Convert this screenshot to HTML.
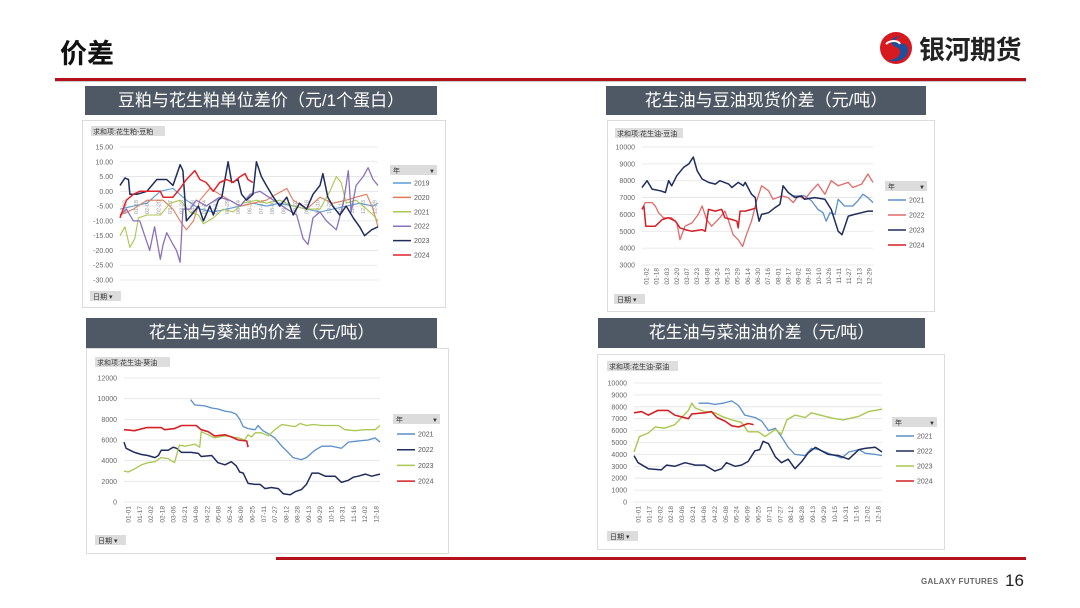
<!DOCTYPE html>
<html><head><meta charset="utf-8">
<style>
body{margin:0;width:1080px;height:608px;background:#fff;overflow:hidden;position:relative;font-family:"Liberation Sans","Noto Sans CJK SC",sans-serif}
.abs{position:absolute}
.tbar{position:absolute;background:#4f5966;color:#fff;font-size:17px;line-height:29px;text-align:center;font-family:"Liberation Sans","Noto Sans CJK SC",sans-serif}
.panel{position:absolute;background:#fff;border:1px solid #dcdcdc}
</style></head><body>
<div class="abs" style="left:60px;top:32px;font-size:27px;font-weight:bold;color:#111">价差</div>
<svg class="abs" style="left:876px;top:30px" width="40" height="36" viewBox="0 0 40 36">
<circle cx="20" cy="18" r="16" fill="#d71920"/><path d="M26 6 C14 6 12 14 20 17 C28 20 24 30 12 30 C22 34 34 28 32 18 C30 12 22 14 20 12 C18 10 22 6 26 6Z" fill="#1d4f9c"/><path d="M10 14 C14 10 22 10 24 14" stroke="#fff" stroke-width="2" fill="none"/></svg>
<div class="abs" style="left:919px;top:30px;font-size:26px;font-weight:bold;color:#222;letter-spacing:-0.5px">银河期货</div>
<div class="abs" style="left:55px;top:78px;width:971px;height:3px;background:#b3121a"></div>
<div class="abs" style="left:55px;top:81px;width:971px;height:1px;background:#ccc"></div>

<div class="tbar" style="left:85px;top:86px;width:352px;height:29px">豆粕与花生粕单位差价（元/1个蛋白）</div>
<div class="tbar" style="left:606px;top:86px;width:320px;height:29px">花生油与豆油现货价差（元/吨）</div>
<div class="tbar" style="left:86px;top:318px;width:351px;height:30px">花生油与葵油的价差（元/吨）</div>
<div class="tbar" style="left:598px;top:318px;width:327px;height:30px">花生油与菜油油价差（元/吨）</div>

<div class="panel" style="left:82px;top:120px;width:362px;height:186px"></div>
<div class="panel" style="left:607px;top:120px;width:326px;height:190px"></div>
<div class="panel" style="left:86px;top:348px;width:361px;height:204px"></div>
<div class="panel" style="left:597px;top:354px;width:346px;height:194px"></div>

<div class="abs" style="left:276px;top:557px;width:750px;height:3px;background:#b3121a"></div>
<div class="abs" style="left:921px;top:577px;font-size:8px;font-weight:bold;color:#666;letter-spacing:0.3px">GALAXY FUTURES</div>
<div class="abs" style="left:1005px;top:571px;font-size:17px;color:#222">16</div>

<svg id="charts" class="abs" style="left:0;top:0" width="1080" height="608"></svg>

<script>
// ---------- Chart 1: 花生粕-豆粕 ----------
const c1Years=["2019","2020","2021","2022","2023","2024"];
const c1Ticks=[15,10,5,0,-5,-10,-15,-20,-25,-30];
const c1Days2019=[0,19,38,57,75,94,113,132,151,170,188,207,226,245,264,283,301,320,339,358,365];
const c1Vals2019=[-6,-5,-4,0,1,-3,-6,-7,-6,-5,-4,-5,-4,-5,-6,-7,-6,-5,-4,-5,-4];
const c1Days2020=[0,19,38,61,75,85,94,104,113,127,141,155,170,188,207,221,236,245,264,283,301,320,334,349,358,365];
const c1Vals2020=[-8,-6,-3,-3,-6,-10,-13,-10,-3,1,-1,-3,-5,-4,-3,-1,1,-3,-6,-2,-4,-3,-2,-1,-6,-12];
const c1Days2021=[0,7,14,21,26,38,57,71,85,99,111,118,132,146,160,174,193,207,226,245,264,283,297,306,313,320,334,349,358,365];
const c1Vals2021=[-15,-12,-19,-16,-9,-8,-8,-4,-3,-7,-8,-11,-9,-6,-7,-4,-3,-4,-3,-5,-6,-6,0,5,3,-4,-3,-6,-8,-10];
const c1Days2022=[0,9,19,28,35,42,49,57,61,66,75,80,85,89,99,108,122,141,155,170,184,198,217,236,250,259,266,273,283,292,306,316,323,327,334,344,351,358,365];
const c1Vals2022=[-8,-6,-10,-10,-15,-20,-12,-23,-18,-14,-18,-20,-24,-6,-6,-3,-5,-2,-3,-5,-1,0,-3,-6,-8,-16,-18,-9,-7,-10,-13,-4,7,-7,2,5,8,4,2];
const c1Days2023=[0,7,12,14,24,38,52,66,75,85,89,94,101,111,118,127,132,139,144,153,158,167,172,179,188,193,200,207,217,226,236,245,254,264,273,283,287,294,301,311,320,330,339,346,356,365];
const c1Vals2023=[2,4.5,4,-1,-1,0,4,4,2,9,7,-10,-8,-5,-10,-5,-8,-3,-2,10,3,4,-1,-3,-1,10,5,2,-2,-5,-2,-8,-4,-6,-1,2,6,-2,-5,-8,-5,-9,-12,-15,-13,-12];
const c1Days2024=[0,9,19,28,38,57,61,75,85,94,106,113,122,132,141,151,160,170,177,181,188];
const c1Vals2024=[-9,-3,-1,0,0,0,-2,-2,1,4,7,4,3,0,3,4,3,5,6,4,3];
const c1Dates=["01-02","01-18","02-03","02-20","03-07","03-23","04-08","04-24","05-13","05-29","06-14","06-30","07-16","08-01","08-17","09-02","09-18","10-10","10-26","11-11","11-27","12-13","12-29"];

// ---------- Chart 2: 花生油-豆油 ----------
const c2Years=["2021","2022","2023","2024"];
const c2Ticks=[10000,9000,8000,7000,6000,5000,4000,3000];
const c2Dates=["01-02","01-18","02-03","02-20","03-07","03-23","04-08","04-24","05-13","05-29","06-14","06-30","07-16","08-01","08-17","09-02","09-18","10-10","10-26","11-11","11-27","12-13","12-29"];
const c2Days2021=[236,257,268,278,286,291,297,305,310,320,333,341,349,357,365];
const c2Vals2021=[7100,7100,6800,6300,6100,5600,6100,6000,6900,6500,6500,6800,7200,7000,6700];
const c2Days2022=[0,5,16,21,26,34,47,55,60,68,79,89,95,102,110,123,131,137,144,152,159,165,173,181,189,200,207,221,231,239,247,257,268,278,289,299,310,326,333,347,357,365];
const c2Vals2022=[6300,6700,6700,6500,6100,5800,5800,5500,4500,5300,5500,6000,6500,5700,5300,5800,6200,5600,4800,4500,4100,4800,5600,6800,7700,7400,6900,7100,7000,6700,7100,6900,7400,7800,7200,8000,7700,7900,7600,7800,8400,7900];
const c2Days2023=[0,8,16,29,37,42,47,55,66,74,81,87,95,105,116,123,137,142,152,160,163,173,179,181,185,189,200,210,218,223,231,242,252,257,273,289,299,310,316,326,336,347,357,365];
const c2Vals2023=[7600,8000,7500,7400,7300,8000,7700,8300,8800,9000,9400,8600,8100,7900,7800,8000,7800,7600,7900,7700,7900,7200,7000,6300,5600,6000,6100,6400,6600,7700,7300,7000,7100,6900,7000,6900,6300,5000,4800,5900,6000,6100,6200,6200];
const c2Days2024=[0,3,6,21,32,42,53,60,68,79,95,100,105,116,126,131,142,150,152,155,163,173,181];
const c2Vals2024=[6300,6500,5300,5300,5700,5800,5600,5200,5100,5000,5100,5000,6300,6200,6300,5800,5700,5600,5200,6200,6200,6300,6400];

// ---------- Chart 3: 花生油-葵油 ----------
const c3Years=["2021","2022","2023","2024"];
const c3Ticks=[12000,10000,8000,6000,4000,2000,0];
const c3Dates=["01-01","01-17","02-02","02-18","03-06","03-21","04-06","04-22","05-08","05-24","06-09","06-25","07-11","07-27","08-12","08-28","09-13","09-29","10-15","10-31","11-16","12-02","12-18"];
const c3Days2021=[95,101,115,125,134,144,153,160,165,170,177,187,191,198,206,215,225,234,241,253,260,272,282,296,310,320,334,348,358,365];
const c3Vals2021=[9900,9400,9300,9100,9000,8800,8700,8500,8000,7300,7100,7000,7400,6900,6600,6200,5400,4800,4300,4100,4300,5000,5400,5400,5200,5800,5900,6000,6200,5800];
const c3Days2022=[0,3,15,25,34,44,49,53,63,70,75,82,96,106,110,125,134,144,153,160,165,170,177,187,194,201,210,220,227,237,244,253,260,268,277,287,301,310,320,327,334,344,353,365];
const c3Vals2022=[5800,5200,4800,4600,4500,4300,4500,5000,5000,5300,5200,4800,4800,4700,4400,4500,3800,3600,3900,3500,2900,2800,1800,1700,1700,1300,1400,1300,800,700,1000,1200,1700,2800,2800,2500,2500,1900,2100,2400,2500,2700,2500,2700];
const c3Days2023=[0,6,15,25,34,44,53,63,72,79,87,101,108,110,120,129,144,163,172,177,182,187,196,206,215,225,244,251,260,270,282,306,315,329,344,358,365];
const c3Vals2023=[3000,2900,3200,3600,3800,3900,4300,4200,3800,5500,5400,5600,5300,6800,6500,6200,6400,6200,6000,6500,6300,6700,6700,6400,7000,7500,7300,7600,7400,7500,7400,7400,7000,6900,7000,7000,7400];
const c3Days2024=[0,15,32,53,58,72,82,103,110,120,129,144,153,163,175,177];
const c3Vals2024=[7000,6900,7200,7200,7000,7100,7400,7400,7000,6800,6400,6500,6300,6000,5900,5300];

// ---------- Chart 4: 花生油-菜油 ----------
const c4Years=["2021","2022","2023","2024"];
const c4Ticks=[10000,9000,8000,7000,6000,5000,4000,3000,2000,1000,0];
const c4Dates=["01-01","01-17","02-02","02-18","03-06","03-21","04-06","04-22","05-08","05-24","06-09","06-25","07-11","07-27","08-12","08-28","09-13","09-29","10-15","10-31","11-16","12-02","12-18"];
const c4Days2021=[95,109,119,131,144,154,163,178,188,198,208,217,227,237,252,261,272,286,306,316,331,340,355,365];
const c4Vals2021=[8300,8300,8200,8300,8500,8100,7300,7100,6800,6000,6200,5500,4600,4000,3900,4500,4400,4100,3700,4200,4400,4100,4000,3900];
const c4Days2022=[0,6,21,40,48,60,75,90,104,119,129,136,149,158,168,178,185,190,198,208,217,227,237,247,256,267,276,286,301,316,331,340,355,365];
const c4Vals2022=[3900,3300,2800,2700,3100,3000,3300,3100,3100,2600,2800,3300,3000,3100,3400,4300,4400,5100,4900,3800,3300,3600,2800,3400,4100,4600,4300,4000,3900,3600,4400,4500,4600,4200];
const c4Days2023=[0,8,21,31,45,60,70,80,85,90,104,119,129,144,158,168,183,193,208,217,225,237,252,261,281,296,308,316,331,345,365];
const c4Vals2023=[4200,5500,5800,6300,6200,6500,7100,7700,8300,7900,7600,7500,7200,6900,6700,5900,5900,5500,6100,5700,6900,7300,7100,7500,7200,7000,6900,7000,7200,7600,7800];
const c4Days2024=[0,11,21,35,50,60,80,85,104,114,122,134,144,154,168,176];
const c4Vals2024=[7500,7600,7300,7700,7700,7300,7000,7400,7500,7600,7100,6800,6400,6300,6600,6500];

const NS="http://www.w3.org/2000/svg";
const root=document.getElementById('charts');
function mk(tag,attrs,parent){const e=document.createElementNS(NS,tag);for(const k in attrs)e.setAttribute(k,attrs[k]);(parent||root).appendChild(e);return e;}
const FONT='"Liberation Sans","Noto Sans CJK SC",sans-serif';

function makeChart(cfg){
  const g=mk('g',{});
  
  
  const yMin=Math.min(...cfg.ticks), yMax=Math.max(...cfg.ticks);
  const xs=d=>cfg.x0+(cfg.x1-cfg.x0)*d/365;
  const ys=v=>cfg.y1-(cfg.y1-cfg.y0)*(v-yMin)/(yMax-yMin);
  const fl=mk('rect',{x:cfg.lab[0],y:cfg.lab[1],width:cfg.lab[2],height:10,fill:'#dedede'},g);
  
  
  mk('text',{x:cfg.lab[0]+2,y:cfg.lab[1]+8,'font-size':7,fill:'#333','font-family':FONT},g).textContent=cfg.labText;
  cfg.ticks.forEach(t=>{
    const gl=mk('line',{x1:cfg.x0,x2:cfg.x1,y1:ys(t),y2:ys(t),stroke:'#e3e3e3','stroke-width':0.8},g);
    
    
    const tl=mk('text',{x:cfg.x0-7,y:ys(t)+2.5,'font-size':7,fill:'#666','text-anchor':'end','font-family':FONT},g);
    
    
    tl.textContent=cfg.fmt(t);
  });
  const n=cfg.dates.length;
  cfg.dates.forEach((d,i)=>{
    const x=cfg.x0+4+(cfg.x1-cfg.x0-8)*i/(n-1);
    const xl=mk('text',{transform:`translate(${x+2.5},${cfg.xLabY}) rotate(-90)`,'font-size':cfg.xLabSize||6.5,fill:cfg.xLabColor||'#666','text-anchor':'end','font-family':FONT},g);
    
    
    xl.textContent=d;
  });
  cfg.series.forEach(s=>{
    const pts=s.days.map((d,i)=>xs(d).toFixed(1)+','+ys(s.vals[i]).toFixed(1)).join(' ');
    const pl=mk('polyline',{points:pts,fill:'none',stroke:s.color,'stroke-width':s.w||1.3,'stroke-linejoin':'round'},g);
    
    
  });
  const L=cfg.leg;
  const lh=mk('rect',{x:L.x,y:L.y,width:L.w,height:10,fill:'#dcdcdc'},g);
  
  
  mk('text',{x:L.x+3,y:L.y+8,'font-size':7,fill:'#333','font-family':FONT},g).textContent='年';
  mk('text',{x:L.x+L.w-8,y:L.y+8,'font-size':6,fill:'#333','font-family':FONT},g).textContent='▼';
  cfg.series.forEach((s,i)=>{
    const yy=L.ey+i*L.sp;
    const ll=mk('line',{x1:L.lx,x2:L.lx+18,y1:yy,y2:yy,stroke:s.color,'stroke-width':1.5},g);
    
    
    mk('text',{x:L.lx+21,y:yy+2.5,'font-size':7,fill:'#555','font-family':FONT},g).textContent=s.year;
  });
  const db=mk('rect',{x:cfg.db[0],y:cfg.db[1],width:31,height:10,fill:'#dcdcdc'},g);
  
  
  mk('text',{x:cfg.db[0]+3,y:cfg.db[1]+8,'font-size':7,fill:'#333','font-family':FONT},g).textContent='日期 ▾';
}

makeChart({name:'chart1-soymeal-peanutmeal',x0:120,x1:378,y0:147,y1:280,ticks:c1Ticks,fmt:t=>t.toFixed(2),
  dates:c1Dates,xLabY:200,xLabSize:5.5,xLabColor:'#999',
  lab:[91,126,74],labText:'求和项:花生粕-豆粕',db:[90,291],
  leg:{x:390,y:165,w:47,lx:393,ey:183,sp:14.4},
  series:[
    {year:c1Years[0],days:c1Days2019,vals:c1Vals2019,color:'#5b9bd5',w:1.1},
    {year:c1Years[1],days:c1Days2020,vals:c1Vals2020,color:'#e07b5a',w:1.1},
    {year:c1Years[2],days:c1Days2021,vals:c1Vals2021,color:'#a9c74f',w:1.1},
    {year:c1Years[3],days:c1Days2022,vals:c1Vals2022,color:'#8b71bb',w:1.3},
    {year:c1Years[4],days:c1Days2023,vals:c1Vals2023,color:'#1f2d5c',w:1.5},
    {year:c1Years[5],days:c1Days2024,vals:c1Vals2024,color:'#e0242a',w:1.5}]});

makeChart({name:'chart2-peanutoil-soyoil',x0:642,x1:873,y0:147,y1:265,ticks:c2Ticks,fmt:t=>String(t),
  dates:c2Dates,xLabY:268,
  lab:[615,128,68],labText:'求和项:花生油-豆油',db:[614,294],
  leg:{x:885,y:181,w:42,lx:888,ey:200,sp:15},
  series:[
    {year:c2Years[0],days:c2Days2021,vals:c2Vals2021,color:'#5b8fc9'},
    {year:c2Years[1],days:c2Days2022,vals:c2Vals2022,color:'#e06b6b'},
    {year:c2Years[2],days:c2Days2023,vals:c2Vals2023,color:'#1f2d5c',w:1.5},
    {year:c2Years[3],days:c2Days2024,vals:c2Vals2024,color:'#d42027',w:1.5}]});

makeChart({name:'chart3-peanutoil-sunoil',x0:124,x1:380,y0:378,y1:502,ticks:c3Ticks,fmt:t=>String(t),
  dates:c3Dates,xLabY:506,
  lab:[95,357,75],labText:'求和项:花生油-葵油',db:[95,535],
  leg:{x:393,y:414,w:47,lx:397,ey:434,sp:15.7},
  series:[
    {year:c3Years[0],days:c3Days2021,vals:c3Vals2021,color:'#5b8fc9'},
    {year:c3Years[1],days:c3Days2022,vals:c3Vals2022,color:'#1f2d5c',w:1.5},
    {year:c3Years[2],days:c3Days2023,vals:c3Vals2023,color:'#a9c74f'},
    {year:c3Years[3],days:c3Days2024,vals:c3Vals2024,color:'#d42027',w:1.6}]});

makeChart({name:'chart4-peanutoil-rapeoil',x0:634,x1:882,y0:383,y1:502,ticks:c4Ticks,fmt:t=>String(t),
  dates:c4Dates,xLabY:506,
  lab:[607,361,71],labText:'求和项:花生油-菜油',db:[607,531],
  leg:{x:892,y:417,w:45,lx:896,ey:436,sp:15},
  series:[
    {year:c4Years[0],days:c4Days2021,vals:c4Vals2021,color:'#5b8fc9'},
    {year:c4Years[1],days:c4Days2022,vals:c4Vals2022,color:'#1f2d5c',w:1.5},
    {year:c4Years[2],days:c4Days2023,vals:c4Vals2023,color:'#a9c74f',w:1.4},
    {year:c4Years[3],days:c4Days2024,vals:c4Vals2024,color:'#d42027',w:1.6}]});
</script>
</body></html>
